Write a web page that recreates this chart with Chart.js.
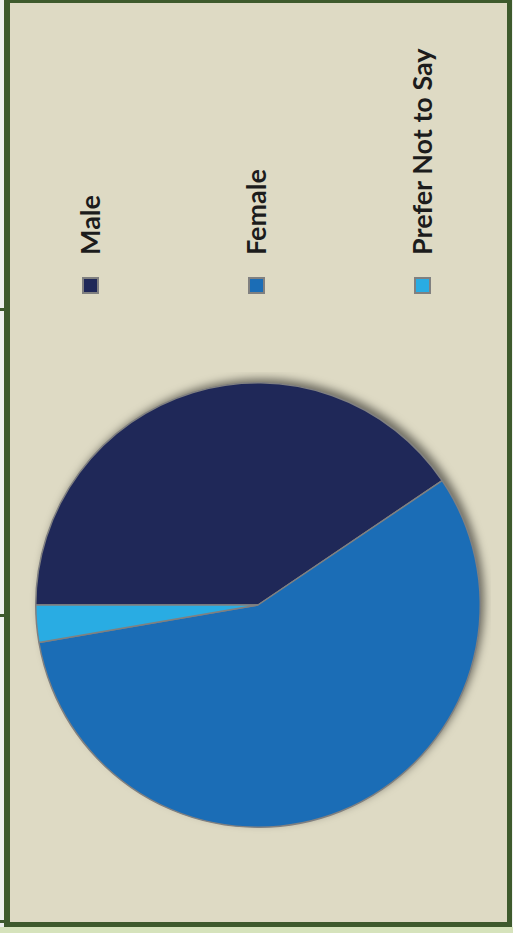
<!DOCTYPE html>
<html>
<head>
<meta charset="utf-8">
<script src="https://cdn.jsdelivr.net/npm/chart.js@4.4.1/dist/chart.umd.min.js"></script>
<style>
    body {
        margin: 0;
        width: 513px;
        height: 933px;
        position: relative;
        overflow: hidden;
        background: #eef0ee;
        font-family: Lato, "Open Sans", sans-serif;
    }
    .frame {
        position: absolute;
        left: 4px;
        top: 0;
        width: 508px;
        height: 927px;
        box-sizing: border-box;
        border-style: solid;
        border-color: #3e5a2d;
        border-width: 3px 5px 5px 6px;
        background: #dedac4;
    }
    .strip {
        position: absolute;
        left: 0;
        top: 927px;
        width: 513px;
        height: 6px;
        background: #d6e3bc;
    }
    .tick {
        position: absolute;
        left: 0;
        width: 5px;
        height: 3px;
        background: #3e5a2d;
    }
    .chart-wrap {
        position: absolute;
        left: 25px;
        top: 372px;
        width: 466px;
        height: 466px;
    }
    /* 범례: 세로로 세운 텍스트 */
    .legend-item {
        position: absolute;
        top: 294px;
        height: 28px;
        display: flex;
        align-items: center;
        white-space: nowrap;
        transform-origin: 0 0;
        transform: rotate(-90deg);
    }
    .legend-box {
        width: 17px;
        height: 17px;
        box-sizing: border-box;
        border: 2px solid #808080;
    }
    .legend-text {
        margin-left: 22px;
        font-size: 27px;
        font-weight: bold;
        line-height: 28px;
        color: #1c1c1c;
    }
</style>
</head>
<body>
<div class="strip"></div>
<div class="frame"></div>
<div class="tick" style="top:308px"></div>
<div class="tick" style="top:614px"></div>
<div class="tick" style="top:920px"></div>
<div id="legend"></div>
<div class="chart-wrap"><canvas id="genderChart"></canvas></div>

<script>
// 응답자 성별 분포
const genderLabels = ['Male', 'Female', 'Prefer Not to Say'];
const genderCounts = [15, 21, 1];
const sliceColors = ['#1f2858', '#1b6db6', '#29ace3'];

// 파이 뒤에 그림자 깔기
const pieShadow = {
    id: 'pieShadow',
    beforeDatasetsDraw(chart) {
        const arc = chart.getDatasetMeta(0).data[0];
        if (!arc) return;
        const ctx = chart.ctx;
        ctx.save();
        ctx.shadowColor = 'rgba(0, 0, 0, 0.5)';
        ctx.shadowBlur = 9;
        ctx.shadowOffsetX = 4;
        ctx.shadowOffsetY = -4;
        ctx.fillStyle = '#808080';
        ctx.beginPath();
        ctx.arc(arc.x, arc.y, arc.outerRadius, 0, Math.PI * 2);
        ctx.fill();
        ctx.restore();
    }
};

function renderGenderChart() {
    const ctx = document.getElementById('genderChart').getContext('2d');
    new Chart(ctx, {
        type: 'pie',
        data: {
            labels: genderLabels,
            datasets: [{
                data: genderCounts,
                backgroundColor: sliceColors,
                borderColor: '#808080',
                borderWidth: 1.5
            }]
        },
        options: {
            responsive: true,
            maintainAspectRatio: false,
            animation: false,
            events: [],
            rotation: 270, // 왼쪽(9시 방향)에서 시작
            layout: { padding: 10 },
            plugins: {
                legend: { display: false }, // 범례는 HTML로 따로
                tooltip: { enabled: false }
            }
        },
        plugins: [pieShadow]
    });
}

// HTML 범례 만들기
function renderLegend() {
    const legend = document.getElementById('legend');
    genderLabels.forEach((label, i) => {
        const item = document.createElement('div');
        item.className = 'legend-item';
        item.style.left = (76 + 166 * i) + 'px';
        const box = document.createElement('span');
        box.className = 'legend-box';
        box.style.background = sliceColors[i];
        const text = document.createElement('span');
        text.className = 'legend-text';
        text.textContent = label;
        item.appendChild(box);
        item.appendChild(text);
        legend.appendChild(item);
    });
}

renderLegend();
renderGenderChart();
</script>
</body>
</html>
